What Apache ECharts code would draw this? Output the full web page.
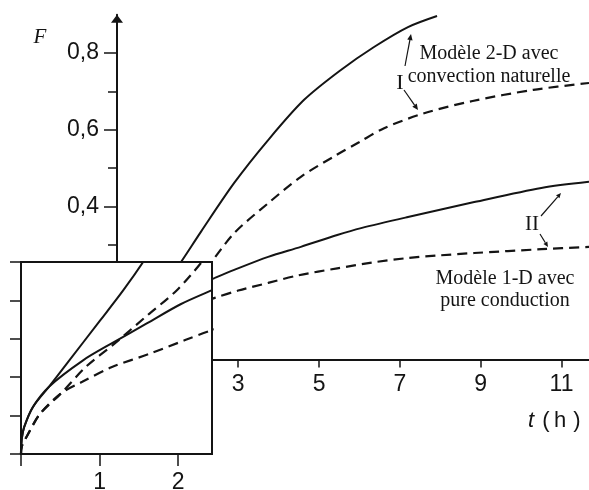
<!DOCTYPE html>
<html>
<head>
<meta charset="utf-8">
<script src="https://cdn.jsdelivr.net/npm/echarts@6/dist/echarts.min.js"></script>
<style>
  html, body { margin: 0; padding: 0; background: #fff; }
  #chart { width: 589px; height: 490px; }
</style>
</head>
<body>
<div id="chart"></div>
<script>
// Fraction F against time t (h).
// Band I  : 2-D model with natural convection (solid = upper curve, dashed = lower curve)
// Band II : 1-D model, pure conduction (solid = upper curve, dashed = lower curve)
const conv2dSolid = [[0,0],[0.01,0.02],[0.04,0.035],[0.15,0.061],[0.36,0.088],[0.6,0.12],[1.0,0.173],[1.3,0.213],[1.58,0.254],[2.08,0.334],[2.9,0.461],[3.74,0.573],[4.63,0.678],[5.54,0.756],[6.36,0.816],[7.2,0.868],[7.92,0.897]];
const conv2dDashed = [[0,0],[0.01,0.01],[0.08,0.024],[0.24,0.052],[0.51,0.079],[0.83,0.114],[1.17,0.142],[1.59,0.179],[1.98,0.213],[2.3,0.25],[2.9,0.33],[3.74,0.408],[4.55,0.477],[5.4,0.532],[6.0,0.568],[6.61,0.604],[7.6,0.643],[8.8,0.675],[10.3,0.704],[11.68,0.722]];
const cond1dSolid = [[0,0],[0.01,0.02],[0.04,0.035],[0.15,0.061],[0.36,0.088],[0.79,0.122],[1.17,0.145],[1.6,0.17],[2.03,0.195],[2.4,0.212],[2.9,0.234],[3.74,0.268],[4.55,0.294],[5.45,0.325],[6.04,0.343],[7.2,0.372],[8.84,0.411],[10.5,0.448],[11.68,0.464]];
const cond1dDashed = [[0,0],[0.01,0.01],[0.08,0.024],[0.24,0.052],[0.51,0.079],[0.78,0.094],[1.15,0.113],[1.65,0.131],[2.08,0.148],[2.42,0.161],[3.0,0.18],[3.74,0.2],[4.5,0.22],[5.45,0.238],[6.3,0.253],[7.2,0.265],[8.0,0.272],[8.84,0.278],[10.5,0.288],[11.68,0.294]];

// Axis ticks and labels
const mainXTicks = [3, 5, 7, 9, 11];
const mainYMajor = [0.4, 0.6, 0.8];
const mainYMinor = [0.3, 0.5, 0.7];
const zoomXTicks = [0, 1, 2];
const zoomXLabels = [1, 2];
const zoomYTicks = [0, 0.05, 0.1, 0.15, 0.2, 0.25];

const INK = '#141414';
const NUM_FONT = 'Liberation Sans';

const chart = echarts.init(document.getElementById('chart'), null, { renderer: 'canvas' });

function curve(name, data, dashed, grid) {
  const inZoom = grid === 1;
  return {
    name, type: 'line', data,
    xAxisIndex: inZoom ? 1 : 0,
    yAxisIndex: inZoom ? 2 : 0,
    symbol: 'none', smooth: 0.3,
    clip: true, silent: true, animation: false,
    z: inZoom ? 12 : 2,
    lineStyle: { color: INK, width: dashed ? 2.2 : 2, type: dashed ? [10, 6] : 'solid', cap: 'butt' }
  };
}

// arrow: thin shaft ending in a small filled head at (x2, y2)
function arrow(x1, y1, x2, y2, head) {
  const a = Math.atan2(y2 - y1, x2 - x1);
  const bx = x2 - head * Math.cos(a), by = y2 - head * Math.sin(a);
  const w = head * 0.45;
  const px = -Math.sin(a) * w, py = Math.cos(a) * w;
  return [
    { type: 'line', z: 20, silent: true, shape: { x1, y1, x2: bx, y2: by }, style: { stroke: INK, lineWidth: 1.2 } },
    { type: 'polygon', z: 20, silent: true, shape: { points: [[x2, y2], [bx + px, by + py], [bx - px, by - py]] }, style: { fill: INK } }
  ];
}

function label(text, x, y, font) {
  return { type: 'text', z: 20, silent: true, x, y,
    style: { text, font, fill: INK, align: 'center', verticalAlign: 'middle' } };
}

const option = {
  backgroundColor: '#fff',
  animation: false,
  grid: [
    { left: 117, right: 0, top: 14.8, bottom: 130.5, z: 0, outerBoundsMode: 'none' },
    { left: 21, top: 262, width: 191, height: 192, show: true, backgroundColor: '#fff',
      borderColor: INK, borderWidth: 2, z: 10, outerBoundsMode: 'none' }
  ],
  xAxis: [
    { type: 'value', gridIndex: 0, min: 0, max: 11.68, position: 'bottom',
      splitLine: { show: false },
      axisLine: { show: true, onZero: false, lineStyle: { color: INK, width: 2 } },
      axisTick: { show: true, customValues: mainXTicks, length: 8, lineStyle: { color: INK, width: 1.5 } },
      axisLabel: { customValues: mainXTicks, margin: 14, color: INK, fontSize: 23, fontFamily: NUM_FONT }
    },
    { type: 'value', gridIndex: 1, min: 0, max: 2.43, position: 'bottom', z: 11,
      splitLine: { show: false },
      axisLine: { show: true, onZero: false, lineStyle: { color: INK, width: 2 } },
      axisTick: { show: true, customValues: zoomXTicks, length: 12, lineStyle: { color: INK, width: 1.5 } },
      axisLabel: { customValues: zoomXLabels, margin: 17, color: INK, fontSize: 23, fontFamily: NUM_FONT }
    }
  ],
  yAxis: [
    { type: 'value', gridIndex: 0, min: 0, max: 0.9, position: 'left',
      splitLine: { show: false },
      axisLine: { show: true, onZero: false, symbol: ['none', 'triangle'], symbolSize: [12, 8], symbolOffset: [0, -4],
        lineStyle: { color: INK, width: 2 } },
      axisTick: { show: true, customValues: mainYMajor, length: 13, lineStyle: { color: INK, width: 1.5 } },
      axisLabel: { customValues: mainYMajor, margin: 18, color: INK, fontSize: 23, fontFamily: NUM_FONT,
        formatter: v => String(v).replace('.', ',') }
    },
    { type: 'value', gridIndex: 0, min: 0, max: 0.9, position: 'left',
      splitLine: { show: false },
      axisLine: { show: false },
      axisLabel: { show: false },
      axisTick: { show: true, customValues: mainYMinor, length: 9, lineStyle: { color: INK, width: 1.5 } }
    },
    { type: 'value', gridIndex: 1, min: 0, max: 0.25, position: 'left', z: 11,
      splitLine: { show: false },
      axisLine: { show: true, onZero: false, lineStyle: { color: INK, width: 2 } },
      axisLabel: { show: false },
      axisTick: { show: true, customValues: zoomYTicks, length: 11, lineStyle: { color: INK, width: 1.5 } }
    }
  ],
  series: [
    curve('I haut', conv2dSolid, false, 0),
    curve('I bas', conv2dDashed, true, 0),
    curve('II haut', cond1dSolid, false, 0),
    curve('II bas', cond1dDashed, true, 0),
    curve('I haut (zoom)', conv2dSolid, false, 1),
    curve('I bas (zoom)', conv2dDashed, true, 1),
    curve('II haut (zoom)', cond1dSolid, false, 1),
    curve('II bas (zoom)', cond1dDashed, true, 1)
  ],
  graphic: [
    label('F', 40, 37, 'italic 21px "Liberation Serif"'),
    label('t', 531, 421, 'italic 22px "Liberation Sans"'),
    label('(', 546, 421, '22px "Liberation Sans"'),
    label('h', 560, 421, '22px "Liberation Sans"'),
    label(')', 577, 421, '22px "Liberation Sans"'),
    { type: 'text', z: 20, silent: true, x: 489, y: 65,
      style: { text: 'Modèle 2-D avec\nconvection naturelle', font: '20px "Liberation Serif"', lineHeight: 23,
        fill: INK, align: 'center', verticalAlign: 'middle' } },
    { type: 'text', z: 20, silent: true, x: 505, y: 290,
      style: { text: 'Modèle 1-D avec\npure conduction', font: '20px "Liberation Serif"', lineHeight: 22,
        fill: INK, align: 'center', verticalAlign: 'middle' } },
    label('I', 400, 83, '22px "Liberation Serif"'),
    label('II', 532, 224, '21px "Liberation Serif"'),
    ...arrow(405, 66, 411, 34, 6),
    ...arrow(404, 90, 418, 110, 6),
    ...arrow(541, 216, 561, 193, 5),
    ...arrow(540, 234, 548, 247, 5)
  ]
};

chart.setOption(option);
</script>
</body>
</html>
